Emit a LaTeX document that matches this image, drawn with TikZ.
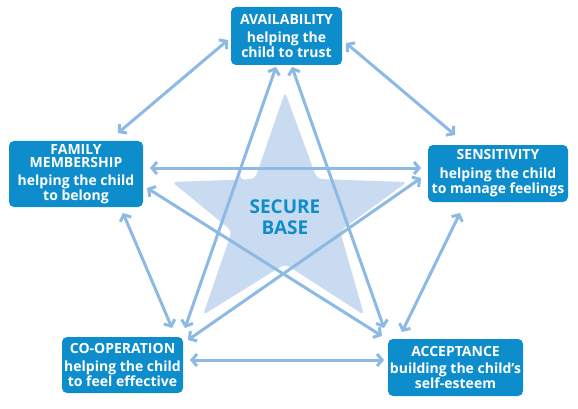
\documentclass[tikz,border=0pt]{standalone}
\usepackage{fontspec}
\setmainfont{Open Sans}
\usetikzlibrary{arrows.meta,calc}
\definecolor{boxblue}{HTML}{0E8DCD}
\definecolor{arrowblue}{HTML}{8DBAE4}
\definecolor{starfill}{HTML}{C8DBF0}
\tikzset{
  >={Straight Barb[length=5pt,width=12pt,line join=miter]},
  box/.style={fill=boxblue, rounded corners=5pt, text=white, align=center,
    font=\bfseries\fontsize{14}{13.8}\selectfont, inner sep=0pt},
  conn/.style={arrowblue, line width=3pt, <->},
}
\begin{document}
\begin{tikzpicture}[x=1pt,y=-1pt]
\useasboundingbox (0,0) rectangle (578,409);
% star
\coordinate (T) at (285,92);
\coordinate (ULi) at (255,179);
\coordinate (L) at (172,182);
\coordinate (LLi) at (232,231);
\coordinate (BL) at (203,315);
\coordinate (Bi) at (285,264);
\coordinate (BR) at (364,315);
\coordinate (LRi) at (340,231);
\coordinate (R) at (407,182);
\coordinate (URi) at (317,179);
\fill[starfill, rounded corners=4pt]
  ($(ULi)!15pt!(L)$) -- (L) -- ($(LLi)!15pt!(L)$) .. controls (LLi) .. ($(LLi)!15pt!(BL)$)
  -- (BL) -- ($(Bi)!15pt!(BL)$) .. controls (Bi) .. ($(Bi)!15pt!(BR)$)
  -- (BR) -- ($(LRi)!15pt!(BR)$) .. controls (LRi) .. ($(LRi)!15pt!(R)$)
  -- (R) -- ($(URi)!15pt!(R)$) .. controls (URi) .. ($(URi)!15pt!(T)$)
  -- (T) -- ($(ULi)!15pt!(T)$) .. controls (ULi) .. ($(ULi)!15pt!(L)$) -- cycle;
\node[text=boxblue, font=\bfseries\fontsize{19}{20.5}\selectfont, align=center] (base) at (285,217) {SECURE\\BASE};
% boxes
\node[box, minimum width=111pt, minimum height=58pt] (avail) at (286.5,36)
  {AVAILABILITY\\[5pt]helping the\\child to trust};
\node[box, minimum width=134pt, minimum height=66pt] (family) at (76,174)
  {FAMILY\\MEMBERSHIP\\[4pt]helping the child\\to belong};
\node[box, minimum width=140pt, minimum height=57pt] (sens) at (498,173.5)
  {SENSITIVITY\\[5pt]helping the child\\to manage feelings};
\node[box, minimum width=121pt, minimum height=56pt] (coop) at (122.5,365)
  {CO-OPERATION\\[4pt]helping the child\\to feel effective};
\node[box, minimum width=135pt, minimum height=57pt] (accept) at (455.5,367.5)
  {ACCEPTANCE\\[4pt]building the child’s\\self-esteem};
% connectors
\draw[conn] ([shift={(-58.5,4)}]avail.center) -- ([shift={(42,-41)}]family.center);
\draw[conn] ([shift={(59.5,7)}]avail.center) -- ([shift={(-43,-38.5)}]sens.center);
\draw[conn] ([shift={(74,-6)}]family.center) -- ([shift={(-77,-5.5)}]sens.center);
\draw[conn] ([shift={(71,14)}]family.center) -- ([shift={(-73.5,-31.5)}]accept.center);
\draw[conn] ([shift={(-77,4.5)}]sens.center) -- ([shift={(65.5,-25)}]coop.center);
\draw[conn] ([shift={(-10.5,31)}]avail.center) -- ([shift={(62.5,-37)}]coop.center);
\draw[conn] ([shift={(5.5,31)}]avail.center) -- ([shift={(-71.5,-39.5)}]accept.center);
\draw[conn] ([shift={(47,39)}]family.center) -- ([shift={(49.5,-37)}]coop.center);
\draw[conn] ([shift={(-38,39.5)}]sens.center) -- ([shift={(-53.5,-35.5)}]accept.center);
\draw[conn] ([shift={(67.5,-5)}]coop.center) -- ([shift={(-71.5,-7.5)}]accept.center);
\end{tikzpicture}
\end{document}
